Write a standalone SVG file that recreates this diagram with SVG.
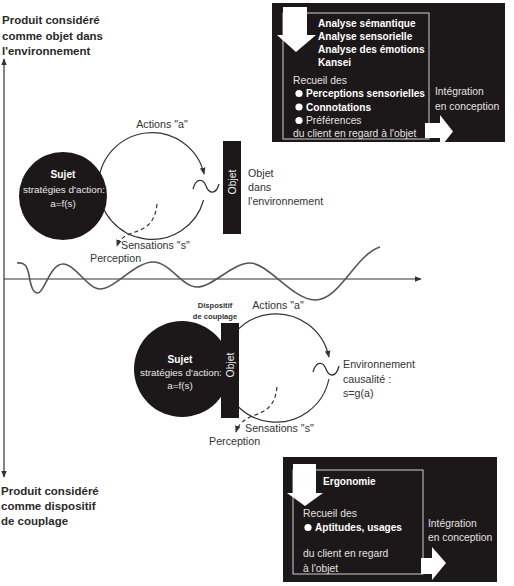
<svg xmlns="http://www.w3.org/2000/svg" width="514" height="586" viewBox="0 0 514 586">
<defs>
<style>
text{font-family:"Liberation Sans",Arial,sans-serif}
.lbl{font-size:10.7px;fill:#333}
.head{font-size:11.5px;font-weight:bold;fill:#2a2a2a}
.wb{font-size:10.1px;font-weight:bold;fill:#fff}
.wr{font-size:10.3px;fill:#e2e2e2}
.sw{font-size:9.9px;fill:#e8e8e8;text-anchor:middle}
.swb{font-size:10.2px;font-weight:bold;fill:#fff;text-anchor:middle}
.blk{fill:#1c1718}
.arc{fill:none;stroke:#333;stroke-width:1.2}
.dash{fill:none;stroke:#333;stroke-width:1.2;stroke-dasharray:4 3}
.sq{fill:none;stroke:#333;stroke-width:1.3}
.inner{fill:none;stroke:#cfcfcf;stroke-width:1}
</style>
<marker id="ah" viewBox="0 0 10 10" refX="9" refY="5" markerWidth="7" markerHeight="7" markerUnits="userSpaceOnUse" orient="auto"><path d="M0,1 L10,5 L0,9 z" fill="#333"/></marker>
<marker id="ahs" viewBox="0 0 10 10" refX="9" refY="5" markerWidth="7" markerHeight="7" markerUnits="userSpaceOnUse" orient="auto-start-reverse"><path d="M0,1 L10,5 L0,9 z" fill="#333"/></marker>
</defs>
<rect width="514" height="586" fill="#fff"/>

<g id="axes">
<line x1="4" y1="59" x2="4" y2="477" stroke="#444" stroke-width="1.3" marker-start="url(#ahs)" marker-end="url(#ahs)"/>
<line x1="4" y1="279" x2="421" y2="279" stroke="#333" stroke-width="1.2" marker-end="url(#ah)"/>
<path d="M17,263 C25,262 27,266 29,275 C31,287 33,293 38,293 C44,293 50,264 63,264 C75,264 88,289 100,289 C115,289 135,262 153,262 C170,262 182,287 197,287 C213,287 232,263 250,263 C268,263 293,300 315,300 C340,300 355,255 380,247" fill="none" stroke="#555" stroke-width="1.6"/>
</g>

<g id="headings">
<text class="head" x="2" y="24">Produit considéré</text>
<text class="head" x="2" y="39.5">comme objet dans</text>
<text class="head" x="2" y="55">l'environnement</text>
<text class="head" x="1" y="495">Produit considéré</text>
<text class="head" x="1" y="510">comme dispositif</text>
<text class="head" x="1" y="525">de couplage</text>
</g>

<g id="connectors">
<path class="arc" d="M98.5,186 A53.5,53.5 0 0 1 204.1,174" marker-end="url(#ah)"/>
<path class="arc" d="M203.6,200 A53.5,53.5 0 0 1 98.5,186"/>
<path class="dash" d="M157,204 C155,222 148,228 132,233 C124,236 119,240 117,246" marker-end="url(#ah)"/>
<path class="arc" d="M222,368 A54,54 0 0 1 328.9,357" marker-end="url(#ah)"/>
<path class="arc" d="M328.9,379 A54,54 0 0 1 222,368"/>
<path class="dash" d="M277,387 C275,405 268,411 252,416 C243,420 238,425 236,432" marker-end="url(#ah)"/>
</g>

<g id="top-sujet">
<circle class="blk" cx="63" cy="196" r="44"/>
<text class="swb" x="63" y="178">Sujet</text>
<text class="sw" x="64" y="193">stratégies d'action:</text>
<text class="sw" x="63" y="207">a=f(s)</text>
</g>

<g id="top-labels">
<text class="lbl" x="162" y="128" text-anchor="middle">Actions "a"</text>
<text class="lbl" x="121" y="249">Sensations "s"</text>
<text class="lbl" x="90" y="262">Perception</text>
<path class="sq" d="M193,189 C196,178 203,178 206,186 C209,194 216,195 219,184"/>
</g>

<g id="top-objet">
<rect class="blk" x="223" y="141" width="18" height="93"/>
<text transform="translate(236,182) rotate(-90)" text-anchor="middle" style="font-size:10.4px;fill:#eee">Objet</text>
<text class="lbl" x="248" y="177">Objet</text>
<text class="lbl" x="248" y="191">dans</text>
<text class="lbl" x="248" y="205">l'environnement</text>
</g>

<g id="bottom-sujet">
<circle class="blk" cx="182" cy="369" r="48"/>
<text class="swb" x="180" y="363">Sujet</text>
<text class="sw" x="181" y="376">stratégies d'action:</text>
<text class="sw" x="180" y="389">a=f(s)</text>
</g>

<g id="bottom-objet">
<rect class="blk" x="221" y="323" width="18" height="95"/>
<text transform="translate(234,365) rotate(-90)" text-anchor="middle" style="font-size:10.4px;fill:#eee">Objet</text>
<text x="215" y="308" text-anchor="middle" style="font-size:7.6px;font-weight:bold;fill:#333">Dispositif</text>
<text x="215" y="319" text-anchor="middle" style="font-size:7.6px;font-weight:bold;fill:#333">de couplage</text>
</g>

<g id="bottom-labels">
<text class="lbl" x="278" y="309" text-anchor="middle">Actions "a"</text>
<path class="sq" d="M313,372 C316,361 323,361 326,369 C329,377 336,378 339,366"/>
<text class="lbl" x="343" y="368">Environnement</text>
<text class="lbl" x="343" y="383">causalité :</text>
<text class="lbl" x="343" y="397">s=g(a)</text>
<text class="lbl" x="245" y="432">Sensations "s"</text>
<text class="lbl" x="209" y="445">Perception</text>
</g>

<g id="box-top">
<rect class="blk" x="272" y="3" width="233" height="139"/>
<rect class="inner" x="283" y="13" width="146" height="126"/>
<path d="M283,7 H307 V35 H316 L296,52 L277,35 H283 Z" fill="#fff"/>
<path d="M425,123 H440 V115 L453,131.5 L440,148 V138 H425 Z" fill="#fff"/>
<text class="wb" x="318" y="27">Analyse sémantique</text>
<text class="wb" x="318" y="40">Analyse sensorielle</text>
<text class="wb" x="318" y="53">Analyse des émotions</text>
<text class="wb" x="318" y="66">Kansei</text>
<text class="wr" x="293" y="84">Recueil des</text>
<circle cx="299" cy="93.5" r="3.6" fill="#fff"/>
<text class="wb" x="306" y="97">Perceptions sensorielles</text>
<circle cx="299" cy="107" r="3.6" fill="#fff"/>
<text class="wb" x="306" y="110.5">Connotations</text>
<circle cx="299" cy="120.5" r="3.6" fill="#fff"/>
<text class="wr" x="306" y="124">Préférences</text>
<text class="wr" x="293" y="136.5">du client en regard à l'objet</text>
<text class="wr" x="435" y="95">Intégration</text>
<text class="wr" x="435" y="110">en conception</text>
</g>

<g id="box-bottom">
<rect class="blk" x="283" y="457" width="214" height="125"/>
<rect class="inner" x="293" y="470" width="130" height="104"/>
<path d="M293,464 H316 V493 H323 L305,506 L287,493 H293 Z" fill="#fff"/>
<path d="M421,558 H432 V547 L446,563 L432,580 V574 H421 Z" fill="#fff"/>
<text class="wb" x="323" y="485">Ergonomie</text>
<text class="wr" x="303" y="517">Recueil des</text>
<circle cx="308" cy="527.5" r="3.6" fill="#fff"/>
<text class="wb" x="315" y="531">Aptitudes, usages</text>
<text class="wr" x="303" y="557">du client en regard</text>
<text class="wr" x="303" y="572">à l'objet</text>
<text class="wr" x="428" y="527">Intégration</text>
<text class="wr" x="428" y="541">en conception</text>
</g>
</svg>
